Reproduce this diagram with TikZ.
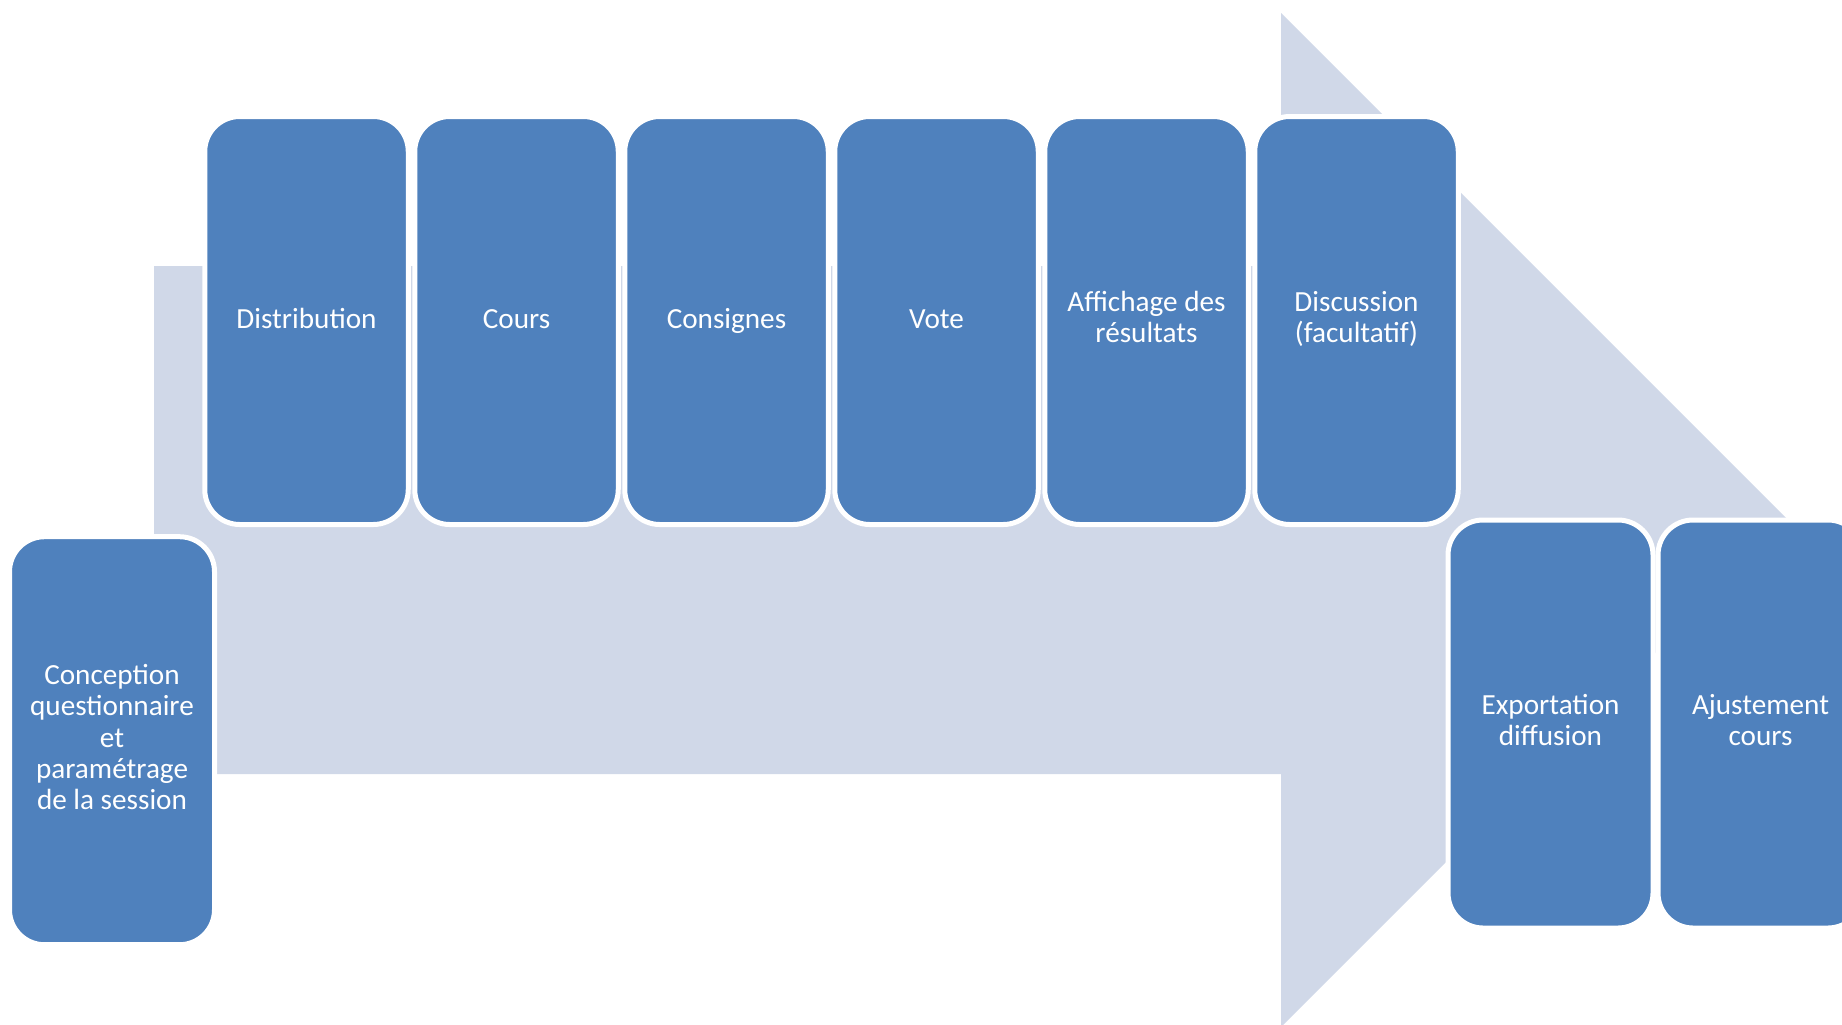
\documentclass[tikz,border=0pt]{standalone}
\usepackage{fontspec}
\setmainfont{Carlito}
\usepackage{tikz}
\definecolor{boxblue}{HTML}{4F81BD}
\definecolor{arrowgray}{HTML}{D0D8E8}
\newcommand{\boxstrut}{\rule[-0.24\baselineskip]{0pt}{\baselineskip}}
\tikzstyle{stepbox} = [rectangle, rounded corners=17.5pt, minimum width=101.75pt, minimum height=204pt, inner sep=2pt, outer sep=0pt, text centered, align=center, fill=boxblue, draw=white, line width=2.5pt, text=white, font=\fontsize{14.6pt}{15.6pt}\selectfont, execute at begin node=\boxstrut, execute at end node=\boxstrut]
\tikzstyle{lowbox} = [stepbox, minimum width=102.5pt]
\tikzstyle{bigarrow} = [fill=arrowgray, draw=none]

\begin{document}
\begin{tikzpicture}[x=0.5pt, y=-0.5pt, node distance=105pt]
\useasboundingbox (0,0) rectangle (1842,1024);
\fill[white] (0,0) rectangle (1842,1024);
\clip (0,0) rectangle (1842,1024);
% background arrow
\fill[bigarrow] (154,266) -- (1281,266) -- (1281,13) -- (1788,520) -- (1281,1027) -- (1281,774) -- (154,774) -- cycle;
% steps
\node (dist) [stepbox] at (306.5,320.5) {Distribution};
\node (cours) [stepbox, right of=dist] {Cours};
\node (consignes) [stepbox, right of=cours] {Consignes};
\node (vote) [stepbox, right of=consignes] {Vote};
\node (affichage) [stepbox, right of=vote] {Affichage des\\résultats};
\node (discussion) [stepbox, right of=affichage] {Discussion\\(facultatif)};
\node (conception) [lowbox, left of=dist, xshift=7.75pt, yshift=-210.1pt] {Conception\\questionnaire\\et\\paramétrage\\de la session};
\node (exportation) [lowbox, right of=discussion, xshift=-8pt, yshift=-201.75pt] {Exportation\\diffusion};
\node (ajustement) [lowbox, right of=exportation] {Ajustement\\cours};
\end{tikzpicture}
\end{document}
